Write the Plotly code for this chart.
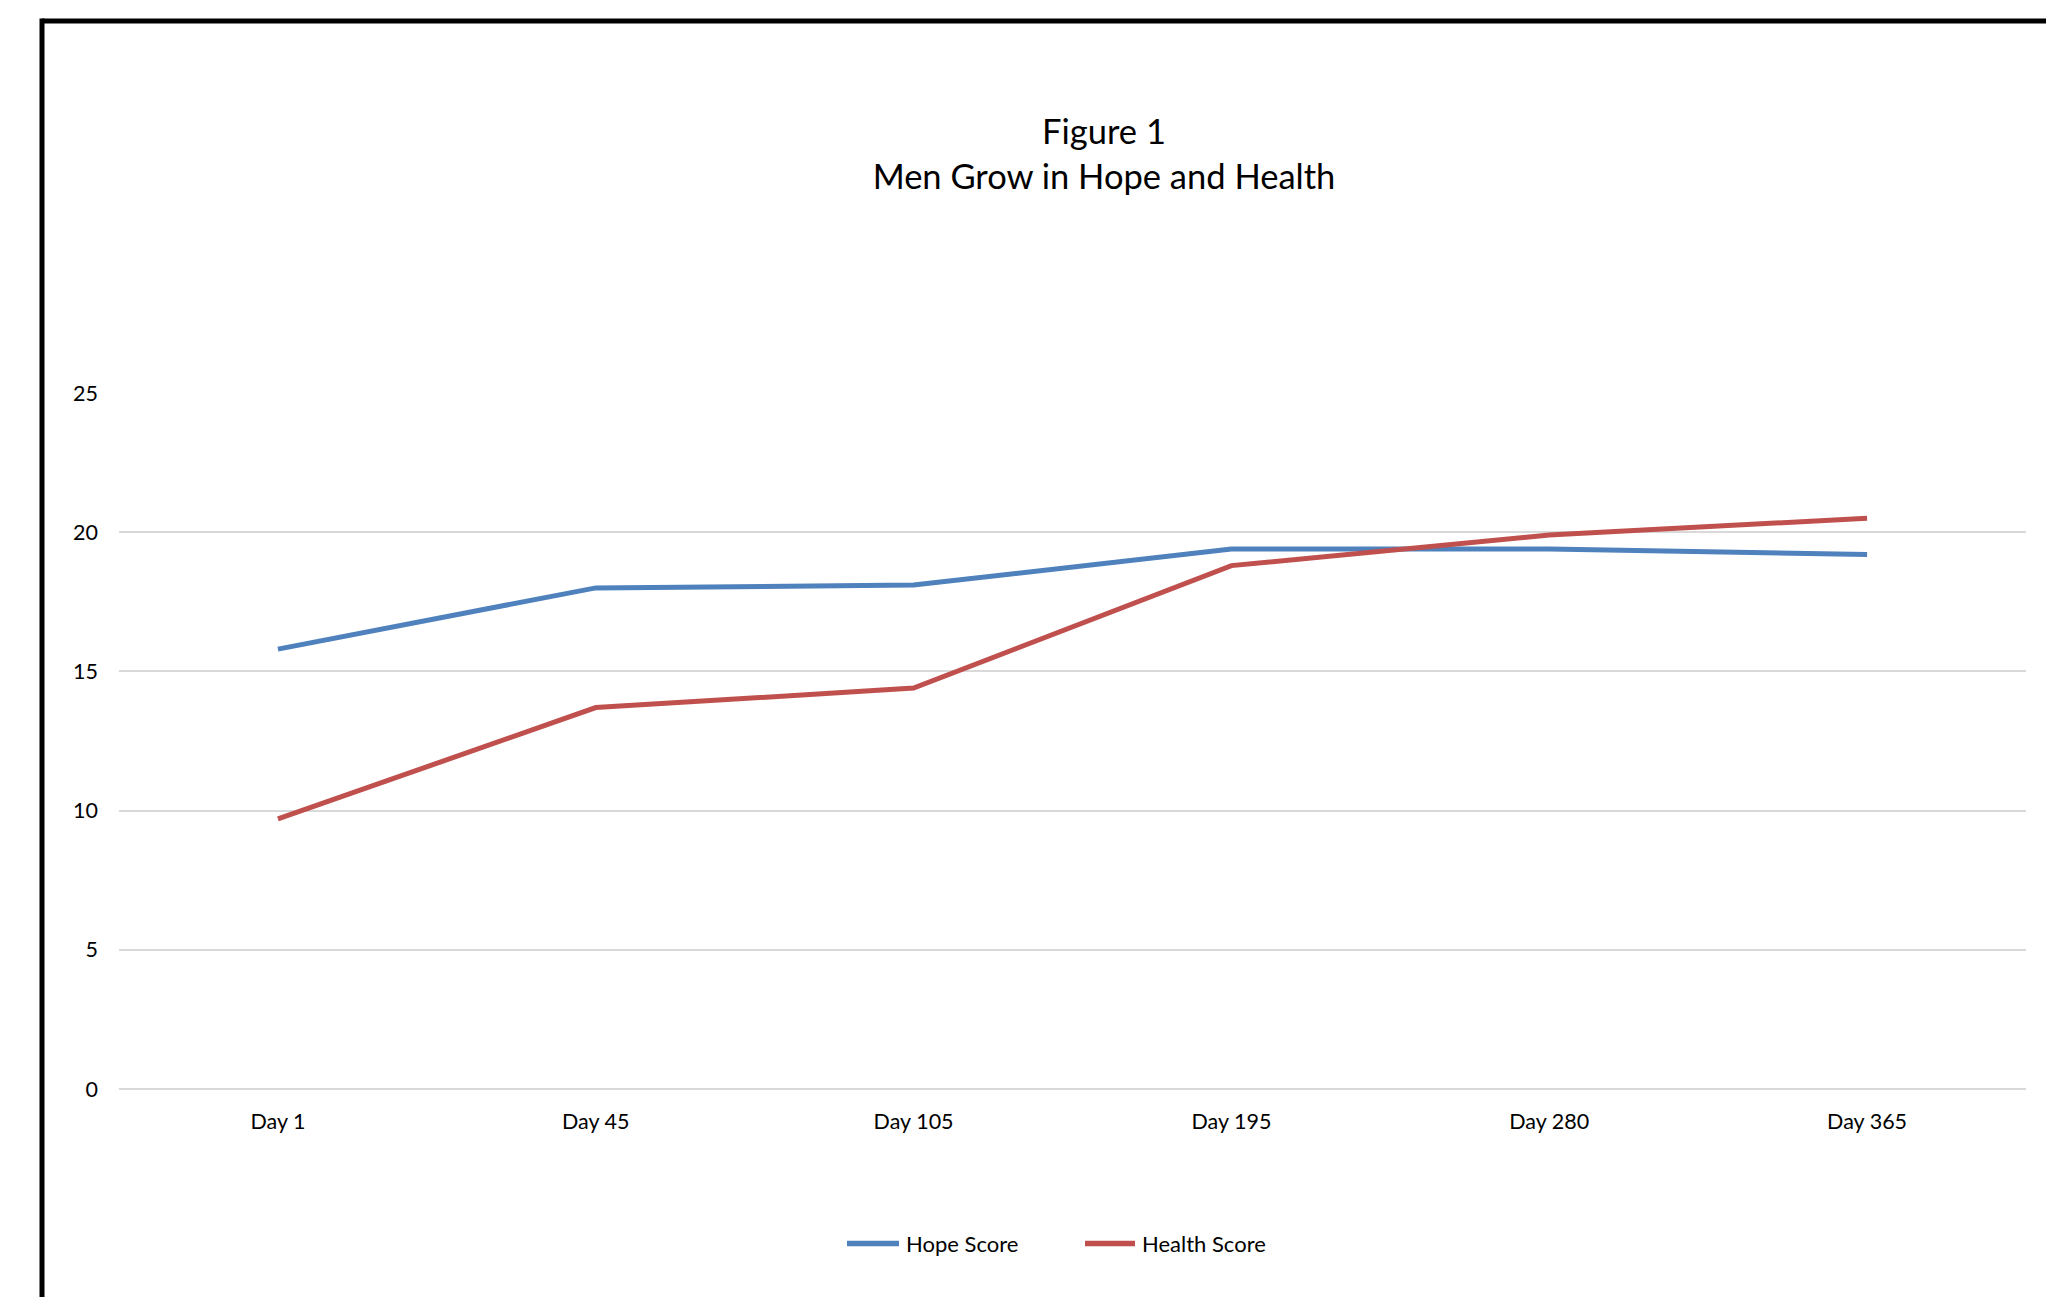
import plotly.graph_objects as go

# Survey checkpoints and mean scores
days = ["Day 1", "Day 45", "Day 105", "Day 195", "Day 280", "Day 365"]
hope_score = [15.8, 18.0, 18.1, 19.4, 19.4, 19.2]
health_score = [9.7, 13.7, 14.4, 18.8, 19.9, 20.5]
y_ticks = [0, 5, 10, 15, 20, 25]
series_names = ["Hope Score", "Health Score"]
series_colors = ["#4F81BD", "#C0504D"]

FONT = "Lato"
W, H = 2046, 1297
L, R, T, B = 119, 20, 393, 208

fig = go.Figure()
for name, values, color in zip(series_names, [hope_score, health_score], series_colors):
    fig.add_trace(go.Scatter(
        x=list(range(len(days))), y=values, mode="lines", name=name,
        line=dict(color=color, width=5),
    ))

pw = W - L - R
ph = H - T - B

def px_x(p):
    return (p - L) / pw

def px_y(p):
    return (H - B - p) / ph

# Heavy frame along the top and left edges of the chart area
frame = dict(color="black", width=5)
fig.add_shape(type="line", xref="paper", yref="paper",
              x0=px_x(42), x1=px_x(W + 10), y0=px_y(21), y1=px_y(21), line=frame)
fig.add_shape(type="line", xref="paper", yref="paper",
              x0=px_x(42), x1=px_x(42), y0=px_y(18.5), y1=px_y(H + 10), line=frame)

# Legend below the axis: a long line sample followed by the series name
legend_y = px_y(1243.5)
legend_items = [(847, 899, 904), (1085, 1135, 1140)]
for (lx0, lx1, tx), name, color in zip(legend_items, series_names, series_colors):
    fig.add_shape(type="line", xref="paper", yref="paper",
                  x0=px_x(lx0), x1=px_x(lx1), y0=legend_y, y1=legend_y,
                  line=dict(color=color, width=5.5))
    fig.add_annotation(xref="paper", yref="paper", x=px_x(tx), y=legend_y,
                       xanchor="left", yanchor="middle", showarrow=False,
                       text=name, font=dict(family=FONT, size=22, color="#000000"))

fig.update_layout(
    width=W, height=H,
    margin=dict(l=L, r=R, t=T, b=B),
    paper_bgcolor="white", plot_bgcolor="white",
    font=dict(family=FONT, color="#000000"),
    title=dict(
        text="Figure 1<br>Men Grow in Hope and Health",
        x=1104 / W, xanchor="center", xref="container",
        y=1 - 144 / H, yanchor="middle", yref="container",
        font=dict(family=FONT, size=34.5, color="#000000"),
    ),
    xaxis=dict(
        range=[-0.5, len(days) - 0.5],
        tickmode="array", tickvals=list(range(len(days))), ticktext=days,
        showgrid=False, zeroline=False, showline=False, ticks="",
        tickfont=dict(family=FONT, size=21.5, color="#000000"),
        ticklabelstandoff=17,
    ),
    yaxis=dict(
        range=[0, 25], tickmode="array", tickvals=y_ticks,
        showgrid=True, gridcolor="#D9D9D9", gridwidth=1.6,
        zeroline=True, zerolinecolor="#D9D9D9", zerolinewidth=1.6,
        showline=False, ticks="",
        tickfont=dict(family=FONT, size=21.5, color="#000000"),
        ticklabelstandoff=20,
    ),
    showlegend=False,
)

fig.write_html("out.html")
